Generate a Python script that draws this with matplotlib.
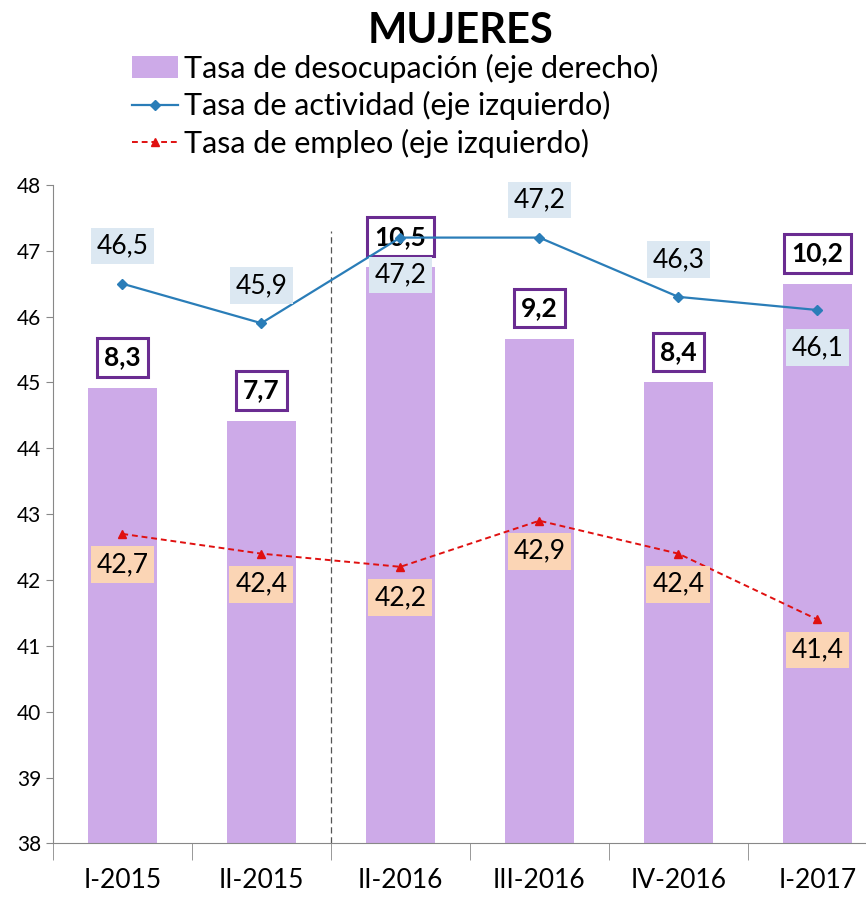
import matplotlib.pyplot as plt
from matplotlib.patches import Patch
from matplotlib.lines import Line2D

plt.rcParams['font.family'] = ['Lato', 'DejaVu Sans']

# Data
periodos = ['I-2015', 'II-2015', 'II-2016', 'III-2016', 'IV-2016', 'I-2017']
desocupacion = [8.3, 7.7, 10.5, 9.2, 8.4, 10.2]
actividad = [46.5, 45.9, 47.2, 47.2, 46.3, 46.1]
empleo = [42.7, 42.4, 42.2, 42.9, 42.4, 41.4]

# label placement for actividad (above / below the point)
act_pos = ['up', 'up', 'down', 'up', 'up', 'down']

fig = plt.figure(figsize=(8.66, 9.02), dpi=100)
ax = fig.add_axes([0.061, 0.065, 0.939, 0.73])
ax2 = ax.twinx()

x = list(range(len(periodos)))

# bars on the (hidden) right axis
ax2.bar(x, desocupacion, width=0.5, color='#cdaae8', zorder=1)
ax2.set_ylim(0, 12)
ax2.axis('off')

ax.set_zorder(ax2.get_zorder() + 1)
ax.patch.set_visible(False)

ax.plot(x, actividad, color='#2a7db8', lw=1.6, marker='D', ms=5, zorder=3)
ax.plot(x, empleo, color='#e01010', lw=1.4, ls=(0, (3, 2)), marker='^', ms=6, zorder=3)

# separator between 2015 and 2016
ax.plot([1.5, 1.5], [38, 47.3], color='#555555', lw=0.9, ls=(0, (5, 3)), zorder=2)

ax.set_yticks(range(38, 49))
ax.set_xticks([i + 0.5 for i in range(-1, 5)], minor=True)
ax.set_xticks(x)
ax.set_xticklabels(periodos, fontsize=19)
ax.set_xlim(-0.5, 5.35)
ax.set_ylim(38, 48)
ax.tick_params(axis='x', which='major', length=0, pad=18)
ax.tick_params(axis='x', which='minor', length=12, color='#888888')
ax.tick_params(axis='y', labelsize=15, length=5, color='#888888')
for s in ['top', 'right']:
    ax.spines[s].set_visible(False)
ax.spines['left'].set_color('#888888')
ax.spines['bottom'].set_color('#888888')

def fmt(v):
    return f'{v:.1f}'.replace('.', ',')

# actividad labels
for i, v in enumerate(actividad):
    dy = 27 if act_pos[i] == 'up' else -27
    ax.annotate(fmt(v), (i, v), xytext=(0, dy), textcoords='offset points',
                ha='center', va='center', fontsize=19, zorder=4,
                bbox=dict(boxstyle='square,pad=0.22', fc='#dce8f2', ec='none'))

# empleo labels
for i, v in enumerate(empleo):
    ax.annotate(fmt(v), (i, v), xytext=(0, -22), textcoords='offset points',
                ha='center', va='center', fontsize=19, zorder=4,
                bbox=dict(boxstyle='square,pad=0.22', fc='#fbd5b5', ec='none'))

# desocupacion labels
for i, v in enumerate(desocupacion):
    ax2.annotate(fmt(v), (i, v), xytext=(0, 22), textcoords='offset points',
                 ha='center', va='center', fontsize=19, fontweight='bold', zorder=5,
                 bbox=dict(boxstyle='square,pad=0.28', fc='white', ec='#6a2c91', lw=2.2))

fig.text(0.532, 0.966, 'MUJERES', ha='center', va='center', fontsize=30, fontweight='bold')

handles = [
    Patch(facecolor='#cdaae8', edgecolor='none'),
    Line2D([0], [0], color='#2a7db8', lw=1.6, marker='D', ms=5),
    Line2D([0], [0], color='#e01010', lw=1.4, ls=(0, (3, 2)), marker='^', ms=6),
]
labels = ['Tasa de desocupación (eje derecho)',
          'Tasa de actividad (eje izquierdo)',
          'Tasa de empleo (eje izquierdo)']
fig.legend(handles, labels, loc='upper left', bbox_to_anchor=(0.138, 0.954),
           frameon=False, fontsize=22, handlelength=1.5, handletextpad=0.2,
           labelspacing=0.28, borderaxespad=0)

fig.savefig('out.png', dpi=100)
